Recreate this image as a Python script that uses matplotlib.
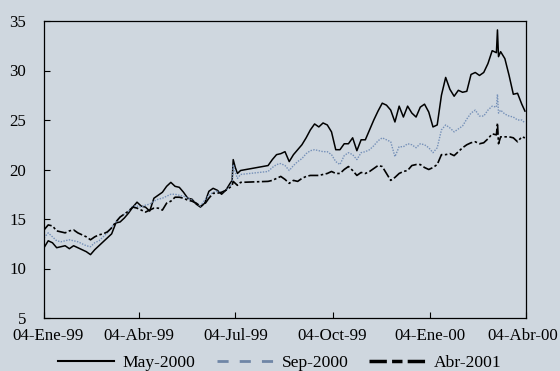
import matplotlib
matplotlib.use("Agg")
import matplotlib.pyplot as plt
import matplotlib.transforms as mtransforms
from matplotlib.lines import Line2D
import pandas as pd

# Daily settlement prices for three futures contract months (sampled dates)
dates = [
    "1999-01-04", "1999-01-08", "1999-01-12", "1999-01-16", "1999-01-20", "1999-01-24",
    "1999-01-28", "1999-02-01", "1999-02-05", "1999-02-09", "1999-02-13", "1999-02-17",
    "1999-02-21", "1999-02-25", "1999-03-01", "1999-03-05", "1999-03-09", "1999-03-13",
    "1999-03-17", "1999-03-21", "1999-03-25", "1999-03-29", "1999-04-02", "1999-04-06",
    "1999-04-10", "1999-04-14", "1999-04-18", "1999-04-22", "1999-04-26", "1999-04-30",
    "1999-05-04", "1999-05-08", "1999-05-12", "1999-05-16", "1999-05-20", "1999-05-24",
    "1999-05-28", "1999-06-01", "1999-06-05", "1999-06-09", "1999-06-13", "1999-06-17",
    "1999-06-21", "1999-06-25", "1999-06-29", "1999-07-01", "1999-07-02", "1999-07-04",
    "1999-07-06", "1999-07-09",
    "1999-08-04", "1999-08-08", "1999-08-12", "1999-08-16", "1999-08-20", "1999-08-24",
    "1999-08-28", "1999-09-01", "1999-09-05", "1999-09-09", "1999-09-13", "1999-09-17",
    "1999-09-21", "1999-09-25", "1999-09-29", "1999-10-03", "1999-10-07", "1999-10-11",
    "1999-10-15", "1999-10-19", "1999-10-23", "1999-10-27", "1999-10-31", "1999-11-04",
    "1999-11-08", "1999-11-12", "1999-11-16", "1999-11-20", "1999-11-24", "1999-11-28",
    "1999-12-02", "1999-12-06", "1999-12-10", "1999-12-14", "1999-12-18", "1999-12-22",
    "1999-12-26", "1999-12-30", "2000-01-03", "2000-01-07", "2000-01-11", "2000-01-15",
    "2000-01-19", "2000-01-23", "2000-01-27", "2000-01-31", "2000-02-04", "2000-02-08",
    "2000-02-12", "2000-02-16", "2000-02-20", "2000-02-24", "2000-02-28", "2000-03-03",
    "2000-03-07", "2000-03-08", "2000-03-09", "2000-03-11", "2000-03-15", "2000-03-19",
    "2000-03-23", "2000-03-27", "2000-03-31", "2000-04-03",
]

may_2000 = [
    12.1, 12.8, 12.6, 12.1, 12.2, 12.3, 12.0, 12.3, 12.1, 11.9, 11.7, 11.4,
    11.9, 12.3, 12.7, 13.1, 13.5, 14.6, 14.7, 15.1, 15.6, 16.2, 16.7, 16.3,
    16.2, 15.8, 17.1, 17.4, 17.7, 18.3, 18.7, 18.3, 18.2, 17.7, 17.1, 17.0,
    16.5, 16.2, 16.6, 17.8, 18.1, 17.9, 17.5, 17.9, 18.6, 18.9, 21.0, 20.2,
    19.6, 19.9,
    20.4, 21.0, 21.5, 21.6, 21.8, 20.8, 21.5, 22.0, 22.5, 23.2, 24.0, 24.6,
    24.3, 24.7, 24.5, 23.8, 22.0, 22.0, 22.6, 22.6, 23.2, 21.9, 23.0, 23.0,
    24.0, 25.0, 25.9, 26.7, 26.5, 26.0, 24.8, 26.4, 25.3, 26.4, 25.7, 25.3,
    26.3, 26.6, 25.8, 24.3, 24.5, 27.5, 29.3, 28.1, 27.4, 28.0, 27.8, 27.9,
    29.6, 29.8, 29.5, 29.8, 30.7, 32.0, 31.8, 34.1, 31.4, 31.9, 31.2, 29.5,
    27.6, 27.7, 26.6, 25.9,
]

sep_2000 = [
    13.1, 13.6, 13.2, 12.8, 12.7, 12.8, 12.9, 12.8, 12.7, 12.5, 12.3, 12.2,
    12.6, 12.8, 13.2, 13.6, 14.2, 14.7, 15.2, 15.5, 15.8, 16.3, 16.3, 16.2,
    16.4, 16.5, 16.8, 17.0, 17.1, 17.3, 17.5, 17.5, 17.4, 17.3, 17.1, 16.9,
    16.6, 16.3, 16.9, 17.4, 17.7, 17.8, 17.7, 17.9, 18.3, 18.6, 20.5, 19.7,
    19.1, 19.5,
    19.8, 20.2, 20.5, 20.6, 20.4, 19.9, 20.4, 20.8, 21.1, 21.6, 21.9, 22.0,
    21.9, 21.8, 21.8, 21.5, 20.8, 20.5, 21.4, 21.7, 21.5, 21.0, 21.7, 21.8,
    22.0, 22.4, 22.9, 23.2, 23.0, 22.8, 21.3, 22.3, 22.3, 22.6, 22.5, 22.2,
    22.6, 22.5, 22.2, 21.7, 22.2, 24.0, 24.5, 24.2, 23.8, 24.1, 24.4, 25.1,
    25.7, 26.0, 25.4, 25.4, 26.0, 26.4, 26.3, 27.6, 25.7, 26.0, 25.6, 25.4,
    25.3, 25.0, 25.0, 24.7,
]

abr_2001 = [
    13.9, 14.4, 14.3, 13.8, 13.7, 13.6, 13.8, 13.9, 13.6, 13.4, 13.2, 12.9,
    13.2, 13.4, 13.5, 13.7, 14.1, 14.7, 15.2, 15.5, 15.8, 16.2, 16.1, 15.9,
    15.7, 15.9, 16.1, 16.1, 15.9, 16.6, 16.8, 17.2, 17.2, 17.1, 16.9, 16.8,
    16.6, 16.3, 16.5, 17.1, 17.6, 17.6, 17.7, 17.9, 18.2, 18.4, 18.8, 18.6,
    18.4, 18.7,
    18.8, 18.9, 19.1, 19.3, 19.0, 18.6, 18.9, 18.8, 19.1, 19.3, 19.4, 19.4,
    19.4, 19.5, 19.6, 19.8, 19.6, 19.6, 20.0, 20.3, 19.9, 19.4, 19.7, 19.6,
    19.8, 20.1, 20.4, 20.3, 19.6, 18.9, 19.2, 19.6, 19.8, 19.9, 20.4, 20.5,
    20.5, 20.2, 20.0, 20.2, 20.5, 21.5, 21.5, 21.6, 21.4, 21.8, 22.2, 22.5,
    22.7, 22.8, 22.6, 22.7, 23.1, 23.6, 23.5, 24.7, 22.6, 23.3, 23.3, 23.3,
    23.2, 22.8, 23.3, 23.2,
]

series_labels = ["May-2000", "Sep-2000", "Abr-2001"]
tick_dates = ["1999-01-04", "1999-04-04", "1999-07-04", "1999-10-04", "2000-01-04", "2000-04-04"]
tick_labels = ["04-Ene-99", "04-Abr-99", "04-Jul-99", "04-Oct-99", "04-Ene-00", "04-Abr-00"]
y_ticks = [5, 10, 15, 20, 25, 30, 35]

BG = "#CFD7DF"
SEP_COLOR = "#7590B8"

plt.rcParams["font.family"] = ["Liberation Serif", "DejaVu Serif"]

x = pd.to_datetime(dates)

fig = plt.figure(figsize=(5.6, 3.71), dpi=100, facecolor=BG)
ax = fig.add_axes([44 / 560, 1 - 318 / 371, (526 - 44) / 560, (318 - 21) / 371])
ax.set_facecolor(BG)

ax.plot(x, may_2000, color="black", lw=1.1)
ax.plot(x, sep_2000, color=SEP_COLOR, lw=1.0, linestyle=(0, (1, 1)))
ax.plot(x, abr_2001, color="black", lw=1.2, linestyle=(0, (6, 1.5, 1.5, 1.5)))

ax.set_xlim(pd.Timestamp(tick_dates[0]), pd.Timestamp(tick_dates[-1]))
ax.set_ylim(5, 35)
ax.set_yticks(y_ticks)
ax.set_xticks(pd.to_datetime(tick_dates))
ax.set_xticklabels(tick_labels)

for s in ax.spines.values():
    s.set_linewidth(0.9)
    s.set_color("black")
ax.tick_params(axis="both", direction="in", length=4, width=0.8, colors="black", labelsize=12.2)
ax.tick_params(axis="y", pad=13)
ax.tick_params(axis="x", pad=7)

# keep the outermost date labels inside the figure
xlabels = ax.get_xticklabels()
for lbl, dx in ((xlabels[0], 4), (xlabels[-1], -3)):
    lbl.set_transform(lbl.get_transform()
                      + mtransforms.ScaledTranslation(dx / 100, 0, fig.dpi_scale_trans))

handles = [
    Line2D([], [], color="black", lw=1.5),
    Line2D([], [], color="#6F86A6", lw=2.0, linestyle=(0, (4, 4))),
    Line2D([], [], color="black", lw=2.5, linestyle=(0, (5, 1.5, 3, 1.5))),
]
fig.legend(handles, series_labels, loc="center", bbox_to_anchor=(0.5, 1 - 363 / 371),
           ncol=3, frameon=False, handlelength=3.2, columnspacing=1.2, handletextpad=0.5,
           fontsize=12.6)

fig.savefig("out.png", dpi=100, facecolor=BG)
